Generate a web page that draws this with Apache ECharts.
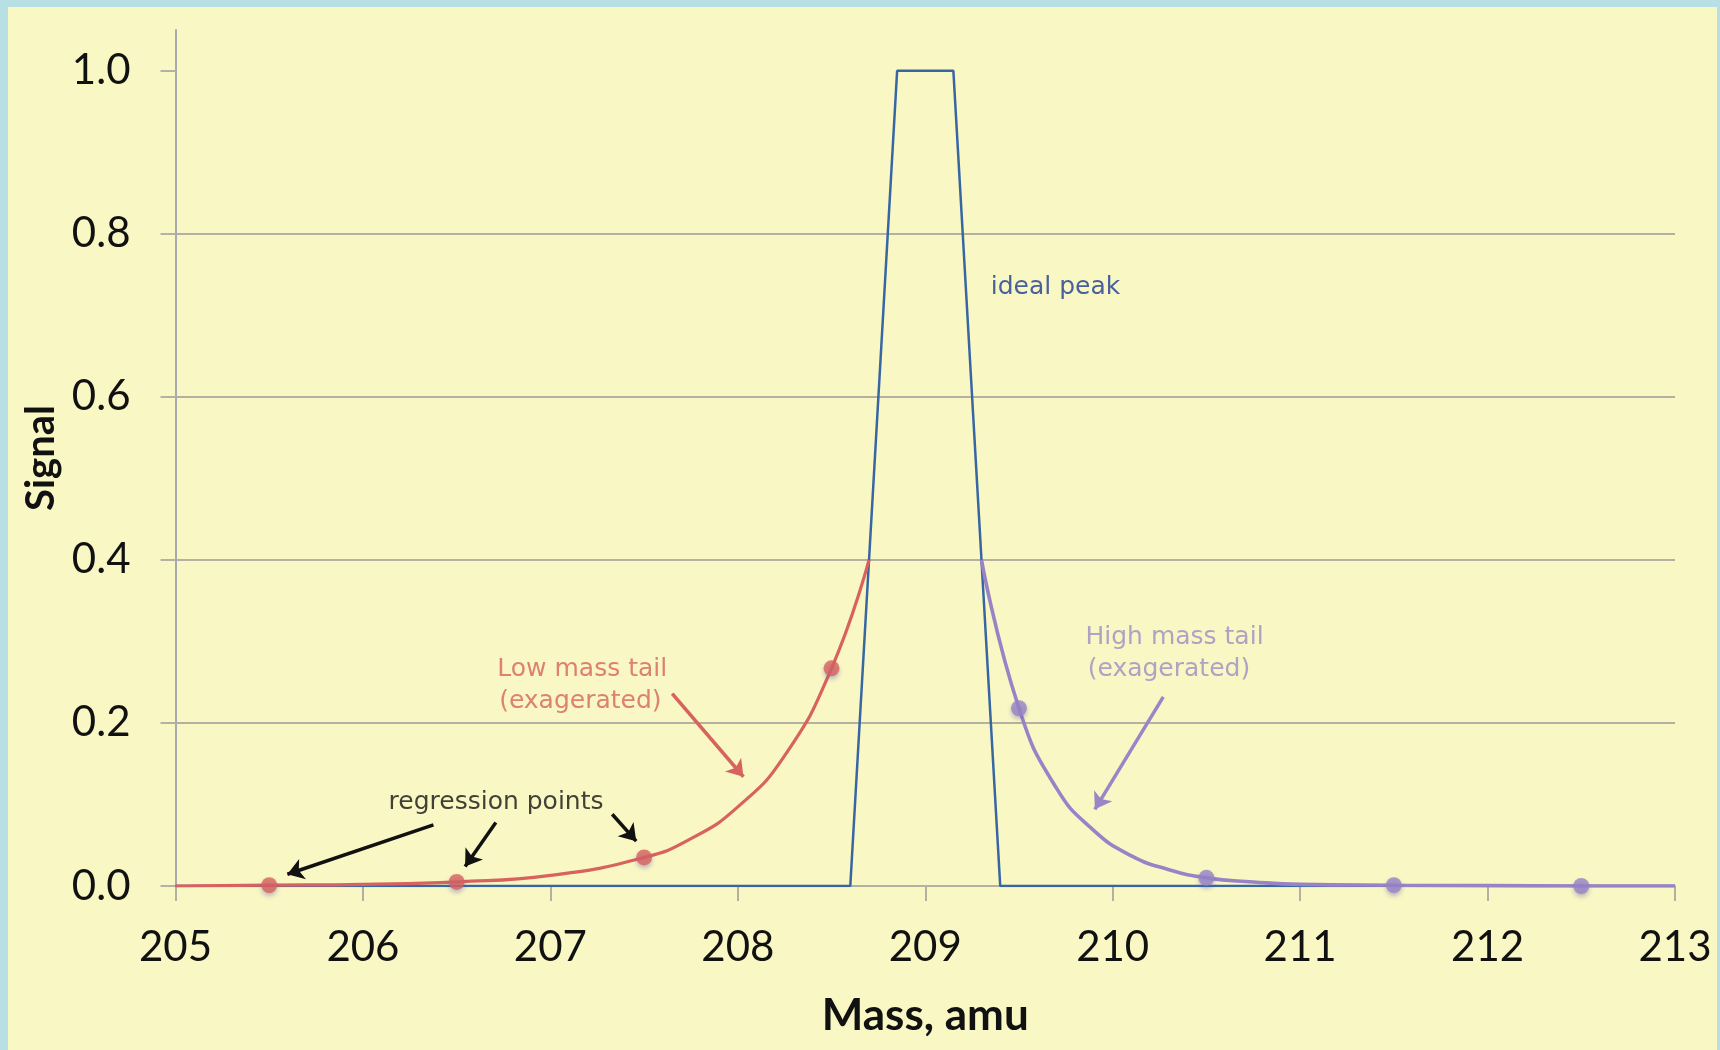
<!DOCTYPE html>
<html>
<head>
<meta charset="utf-8">
<script src="https://cdn.jsdelivr.net/npm/echarts@6.0.0/dist/echarts.min.js"></script>
<style>
  html, body { margin: 0; padding: 0; background: #b8dfe4; }
  #chart { position: absolute; left: 8px; top: 7px; width: 1709px; height: 1043px; }
</style>
</head>
<body>
<div id="chart"></div>
<script>
// ideal peak (trapezoid)
var peakMass = [205, 208.6, 208.85, 209.15, 209.4, 213];
var peakSignal = [0, 0, 1, 1, 0, 0];

// low mass tail (exagerated)
var lowMass = [205, 205.5, 206, 206.5, 207, 207.5, 207.75, 208, 208.25, 208.5, 208.7];
var lowSignal = [0, 0.001, 0.002, 0.005, 0.013, 0.035, 0.058, 0.097, 0.16, 0.267, 0.4];

// high mass tail (exagerated)
var highMass = [209.3, 209.5, 209.7, 209.9, 210.1, 210.3, 210.5, 210.75, 211, 211.5, 212, 212.5, 213];
var highSignal = [0.4, 0.218, 0.12, 0.068, 0.037, 0.02, 0.01, 0.005, 0.002, 0.001, 0.0005, 0, 0];

// regression points
var lowPtMass = [205.5, 206.5, 207.5, 208.5];
var lowPtSignal = [0.001, 0.005, 0.035, 0.267];
var highPtMass = [209.5, 210.5, 211.5, 212.5];
var highPtSignal = [0.218, 0.01, 0.001, 0];

var yTicks = [0, 0.2, 0.4, 0.6, 0.8, 1.0];

// annotations: [mass, signal, text, colour]
var notes = [
  [209.695, 0.734, "ideal peak", "#1c3b92"],
  [206.71, 0.102, "regression points", "#111111"],
  [207.17, 0.265, "Low mass tail", "#d6635e"],
  [207.16, 0.226, "(exagerated)", "#d6635e"],
  [210.33, 0.305, "High mass tail", "#9d8cc6"],
  [210.30, 0.266, "(exagerated)", "#9d8cc6"]
];
// arrows: [fromMass, fromSignal, toMass, toSignal, colour]
var arrows = [
  [206.376, 0.075, 205.597, 0.0144, "#111111"],
  [206.709, 0.078, 206.545, 0.024, "#111111"],
  [207.33, 0.088, 207.458, 0.055, "#111111"],
  [207.65, 0.236, 208.03, 0.134, "#d6635e"],
  [210.27, 0.232, 209.905, 0.094, "#9a85c7"]
];

function zip(xs, ys) {
  return xs.map(function (x, i) { return [x, ys[i]]; });
}

var red = "#d8625d";
var purple = "#9983c6";
var gridGray = "#b4b1a2";

var option = {
  backgroundColor: "#f9f7c3",
  animation: false,
  grid: { left: 167.5, right: 42, top: 23, bottom: 164 },
  xAxis: {
    type: "value",
    min: 205,
    max: 213,
    interval: 1,
    name: "Mass, amu",
    nameLocation: "middle",
    nameGap: 108,
    nameTextStyle: { fontFamily: "Lato", fontWeight: "bold", fontSize: 44, color: "#111" },
    axisLine: { show: true, lineStyle: { color: gridGray, width: 2 } },
    axisTick: { show: true, length: 15, lineStyle: { color: gridGray, width: 2 } },
    axisLabel: { fontFamily: "Lato", fontSize: 42, color: "#111", margin: 40 },
    splitLine: { show: false }
  },
  yAxis: {
    type: "value",
    min: 0,
    max: 1.05,
    interval: 0.2,
    name: "Signal",
    nameLocation: "middle",
    nameGap: 112,
    nameTextStyle: { fontFamily: "Lato", fontWeight: "bold", fontSize: 40, color: "#111" },
    axisLine: { show: true, lineStyle: { color: "#aaa9b0", width: 2 } },
    axisTick: { show: true, length: 15, customValues: yTicks, lineStyle: { color: gridGray, width: 2 } },
    axisLabel: {
      fontFamily: "Lato", fontSize: 42, color: "#111", margin: 45,
      customValues: yTicks,
      formatter: function (v) { return v.toFixed(1); }
    },
    splitLine: { show: true, showMaxLine: false, lineStyle: { color: gridGray, width: 2 } }
  },
  series: [
    {
      name: "ideal peak",
      type: "line",
      data: zip(peakMass, peakSignal),
      symbol: "none",
      lineStyle: { color: "#3766a3", width: 2.5 },
      z: 2
    },
    {
      name: "low tail",
      type: "line",
      data: zip(lowMass, lowSignal),
      smooth: 0.5,
      symbol: "none",
      lineStyle: { color: red, width: 3.2 },
      z: 3
    },
    {
      name: "high tail",
      type: "line",
      data: zip(highMass, highSignal),
      smooth: 0.5,
      symbol: "none",
      lineStyle: { color: purple, width: 3.6 },
      z: 3
    },
    {
      type: "scatter",
      data: zip(lowPtMass, lowPtSignal),
      symbolSize: 16,
      itemStyle: { color: red, shadowBlur: 4, shadowOffsetY: 3, shadowColor: "rgba(90,90,180,0.45)" },
      z: 4
    },
    {
      type: "scatter",
      data: zip(highPtMass, highPtSignal),
      symbolSize: 16,
      itemStyle: { color: purple, shadowBlur: 4, shadowOffsetY: 3, shadowColor: "rgba(90,90,180,0.45)" },
      z: 4
    },
    {
      type: "scatter",
      symbolSize: 0,
      silent: true,
      z: 5,
      data: notes.map(function (n) {
        return { name: n[2], value: [n[0], n[1]], label: { color: n[3] } };
      }),
      label: {
        show: true,
        position: "inside",
        formatter: "{b}",
        fontFamily: "DejaVu Sans",
        fontSize: 25
      },
      markLine: {
        silent: true,
        symbol: ["none", "arrow"],
        symbolSize: 16,
        label: { show: false },
        data: arrows.map(function (a) {
          return [
            { coord: [a[0], a[1]], lineStyle: { color: a[4], width: 3.5, type: "solid" } },
            { coord: [a[2], a[3]] }
          ];
        })
      }
    }
  ]
};

var myChart = echarts.init(document.getElementById("chart"));
myChart.setOption(option);
</script>
</body>
</html>
